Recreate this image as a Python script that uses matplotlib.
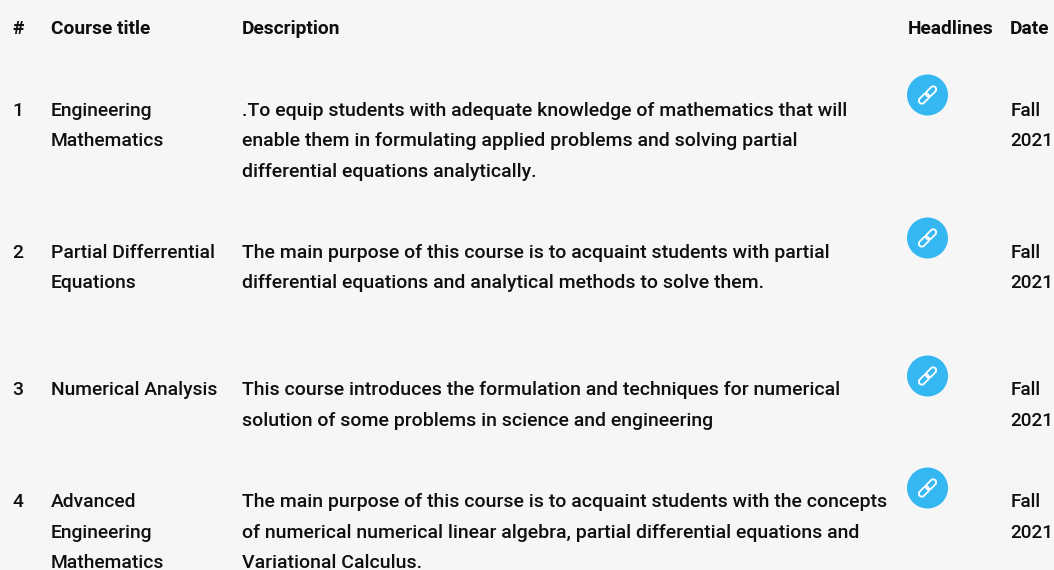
import matplotlib
matplotlib.use("Agg")
import matplotlib.pyplot as plt
from matplotlib.patches import Circle, FancyBboxPatch
from matplotlib.transforms import Affine2D

BG = "#f6f6f6"
TEXT = "#0f0f0f"
BLUE = "#35b8f2"

# table content
headers = ["#", "Course title", "Description", "Headlines", "Date"]
numbers = ["1", "2", "3", "4"]
titles = [
    ["Engineering", "Mathematics"],
    ["Partial Differrential", "Equations"],
    ["Numerical Analysis"],
    ["Advanced", "Engineering", "Mathematics"],
]
descriptions = [
    [".To equip students with adequate knowledge of mathematics that will",
     "enable them in formulating applied problems and solving partial",
     "differential equations analytically."],
    ["The main purpose of this course is to acquaint students with partial",
     "differential equations and analytical methods to solve them."],
    ["This course introduces the formulation and techniques for numerical",
     "solution of some problems in science and engineering"],
    ["The main purpose of this course is to acquaint students with the concepts",
     "of numerical numerical linear algebra, partial differential equations and",
     "Variational Calculus."],
]
dates = [["Fall", "2021"], ["Fall", "2021"], ["Fall", "2021"], ["Fall", "2021"]]

# layout in pixels
col_x = [12.5, 51, 242, 908, 1010]
row_y = [111, 253, 390, 502]
icon_y = [95, 238, 376, 488]
icon_x = 927.5
line_h = 30.5
font_size = 13.9
desc_size = 14.03
date_size = 13.6
head_size = 13.8

plt.rcParams["font.family"] = ["Roboto", "DejaVu Sans"]

fig = plt.figure(figsize=(10.54, 5.70), dpi=100, facecolor=BG)
ax = fig.add_axes([0, 0, 1, 1])
ax.set_xlim(0, 1054)
ax.set_ylim(570, 0)
ax.axis("off")


def put_lines(x, y, lines, size=font_size):
    for i, line in enumerate(lines):
        ax.text(x, y + i * line_h, line, fontsize=size, fontweight=500,
                color=TEXT, va="center", ha="left")


# link icon, two rounded white outlines tilted 45 degrees
def draw_icon(cx, cy):
    ax.add_patch(Circle((cx, cy), 20.5, facecolor=BLUE, edgecolor="none"))
    for off in (-5, 5):
        box = FancyBboxPatch((-3, off - 6), 6, 12,
                             boxstyle="round,pad=0,rounding_size=3",
                             facecolor="none", edgecolor="white", linewidth=1.3)
        box.set_transform(Affine2D().rotate_deg(45).translate(cx, cy) + ax.transData)
        ax.add_patch(box)


for x, label in zip(col_x, headers):
    ax.text(x, 28.5, label, fontsize=head_size, fontweight="bold", color=TEXT,
            va="center", ha="left")

for i in range(len(numbers)):
    put_lines(col_x[0], row_y[i], [numbers[i]])
    put_lines(col_x[1], row_y[i], titles[i])
    put_lines(col_x[2], row_y[i], descriptions[i], desc_size)
    put_lines(col_x[4] + 0.5, row_y[i], dates[i], date_size)
    draw_icon(icon_x, icon_y[i])

fig.savefig("out.png", dpi=100, facecolor=BG)
